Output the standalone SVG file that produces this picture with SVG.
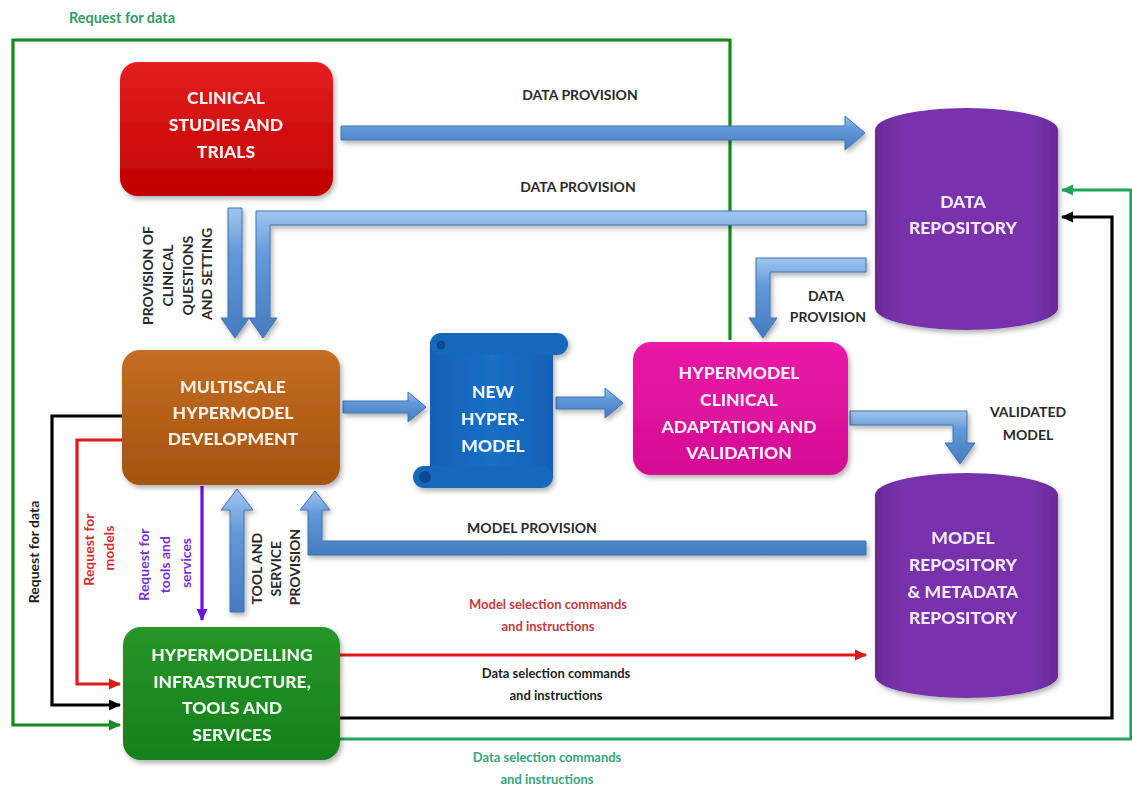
<svg xmlns="http://www.w3.org/2000/svg" width="1132" height="790" viewBox="0 0 1132 790">
  <style>
    .box { font-family: Lato, "Liberation Sans", sans-serif; font-weight: 900; font-size: 17.5px; text-anchor: middle; }
    .lbl { font-family: Lato, "Liberation Sans", sans-serif; font-weight: bold; font-size: 14px; text-anchor: middle; fill: #2a2a2a; }
    .small { font-family: Lato, "Liberation Sans", sans-serif; font-weight: bold; font-size: 13px; text-anchor: middle; }
    .blue { fill: url(#gArrow); stroke: #3e73b3; stroke-width: 1; filter: url(#shadow); }
    .wire { fill: none; stroke-width: 3.2; stroke-linejoin: miter; }
  </style>
  <defs>
    <filter id="shadow" x="-10%" y="-10%" width="130%" height="140%">
      <feDropShadow dx="2" dy="3" stdDeviation="2.5" flood-color="#000" flood-opacity="0.3"/>
    </filter>
    <linearGradient id="gArrow" x1="0" y1="0" x2="0" y2="1">
      <stop offset="0" stop-color="#a0c5ee"/>
      <stop offset="0.35" stop-color="#6299d8"/>
      <stop offset="1" stop-color="#457cbf"/>
    </linearGradient>
    <linearGradient id="gRed" x1="0" y1="0" x2="0" y2="1">
      <stop offset="0" stop-color="#e42020"/>
      <stop offset="1" stop-color="#c00000"/>
    </linearGradient>
    <linearGradient id="gBrown" x1="0" y1="0" x2="0" y2="1">
      <stop offset="0" stop-color="#c46d22"/>
      <stop offset="1" stop-color="#a5520e"/>
    </linearGradient>
    <linearGradient id="gScroll" x1="0" y1="0" x2="1" y2="0">
      <stop offset="0" stop-color="#1260b4"/>
      <stop offset="0.5" stop-color="#1a6fc6"/>
      <stop offset="1" stop-color="#1260b4"/>
    </linearGradient>
    <linearGradient id="gPink" x1="0" y1="0" x2="0" y2="1">
      <stop offset="0" stop-color="#ea1aa8"/>
      <stop offset="1" stop-color="#d40c92"/>
    </linearGradient>
    <linearGradient id="gGreen" x1="0" y1="0" x2="0" y2="1">
      <stop offset="0" stop-color="#27952a"/>
      <stop offset="1" stop-color="#15801a"/>
    </linearGradient>
    <linearGradient id="gPurple" x1="0" y1="0" x2="1" y2="0">
      <stop offset="0" stop-color="#6a2a9c"/>
      <stop offset="0.15" stop-color="#7833ac"/>
      <stop offset="0.85" stop-color="#7833ac"/>
      <stop offset="1" stop-color="#6a2a9c"/>
    </linearGradient>
    <marker id="mBlack" viewBox="0 0 12 12" refX="11" refY="6" markerWidth="12" markerHeight="12" markerUnits="userSpaceOnUse" orient="auto">
      <path d="M0,0.5 L12,6 L0,11.5 Z" fill="#000"/>
    </marker>
    <marker id="mRed" viewBox="0 0 12 12" refX="11" refY="6" markerWidth="12" markerHeight="12" markerUnits="userSpaceOnUse" orient="auto">
      <path d="M0,0.5 L12,6 L0,11.5 Z" fill="#e01818"/>
    </marker>
    <marker id="mGreen" viewBox="0 0 12 12" refX="11" refY="6" markerWidth="12" markerHeight="12" markerUnits="userSpaceOnUse" orient="auto">
      <path d="M0,0.5 L12,6 L0,11.5 Z" fill="#1a8a2a"/>
    </marker>
    <marker id="mGreen2" viewBox="0 0 12 12" refX="11" refY="6" markerWidth="12" markerHeight="12" markerUnits="userSpaceOnUse" orient="auto">
      <path d="M0,0.5 L12,6 L0,11.5 Z" fill="#22a35a"/>
    </marker>
    <marker id="mPurple" viewBox="0 0 12 12" refX="11" refY="6" markerWidth="12" markerHeight="12" markerUnits="userSpaceOnUse" orient="auto">
      <path d="M0,0.5 L12,6 L0,11.5 Z" fill="#6a12d8"/>
    </marker>
  </defs>

  <rect width="1132" height="790" fill="#ffffff"/>

  <!-- connectors -->
  <g id="connectors">
    <!-- thin request / command lines -->
    <path class="wire" stroke="#148a1c" d="M730,340 V40 H13 V725 H120" marker-end="url(#mGreen)"/>
    <path class="wire" stroke="#000" d="M122,416 H52 V705 H120" marker-end="url(#mBlack)"/>
    <path class="wire" stroke="#e01818" d="M122,440 H77 V684 H120" marker-end="url(#mRed)"/>
    <path class="wire" stroke="#6a12d8" d="M202,486 V620" marker-end="url(#mPurple)"/>
    <path class="wire" stroke="#e01818" d="M340,655 H866" marker-end="url(#mRed)"/>
    <path class="wire" stroke="#000" d="M340,718 H1112 V217 H1062" marker-end="url(#mBlack)"/>
    <path class="wire" stroke="#22a35a" d="M340,739 H1131 V190 H1062" marker-end="url(#mGreen2)"/>

    <!-- block arrows -->
    <!-- clinical studies to data repository -->
    <path class="blue" d="M341,126 H845 V116 L865,133 L845,150 V140 H341 Z"/>
    <!-- data repository to multiscale development -->
    <path class="blue" d="M866,211 H256 V318 H249 L263,338 L277,318 H270 V225 H866 Z"/>
    <!-- clinical studies to multiscale development -->
    <path class="blue" d="M228,208 H242 V318 H249 L235,338 L221,318 H228 Z"/>
    <!-- data repository to clinical adaptation -->
    <path class="blue" d="M866,258 H756 V318 H749 L763,338 L777,318 H770 V272 H866 Z"/>
    <!-- multiscale development to new hypermodel -->
    <path class="blue" d="M343,401 H408 V392 L426,407 L408,422 V413 H343 Z"/>
    <!-- new hypermodel to clinical adaptation -->
    <path class="blue" d="M556,397 H605 V388 L623,403 L605,418 V409 H556 Z"/>
    <!-- validated model to model repository -->
    <path class="blue" d="M850,411 H967 V443 H975 L960,464 L945,443 H953 V425 H850 Z"/>
    <!-- model repository to multiscale development -->
    <path class="blue" d="M866,541 H322 V510 H330 L315,491 L300,510 H308 V555 H866 Z"/>
    <!-- tools and services to multiscale development -->
    <path class="blue" d="M230,612 V510 H221 L237,489 L253,510 H244 V612 Z"/>
  </g>

  <!-- connector labels -->
  <g id="labels">
    <text class="small" fill="#2f9c6a" x="122" y="23" style="font-size:14.5px">Request for data</text>
    <text class="lbl" x="580" y="100">DATA PROVISION</text>
    <text class="lbl" x="578" y="192">DATA PROVISION</text>
    <text class="lbl" x="826" y="301">DATA</text>
    <text class="lbl" x="828" y="322">PROVISION</text>
    <text class="lbl" x="1028" y="417">VALIDATED</text>
    <text class="lbl" x="1028" y="440">MODEL</text>
    <text class="lbl" x="532" y="533">MODEL PROVISION</text>
    <text class="small" fill="#c23a3a" x="548" y="609">Model selection commands</text>
    <text class="small" fill="#c23a3a" x="548" y="631">and instructions</text>
    <text class="small" fill="#1e1e1e" x="556" y="678">Data selection commands</text>
    <text class="small" fill="#1e1e1e" x="556" y="700">and instructions</text>
    <text class="small" fill="#3aa37a" x="547" y="762">Data selection commands</text>
    <text class="small" fill="#3aa37a" x="547" y="784">and instructions</text>
    <text class="lbl" transform="translate(152.5,274) rotate(-90)">
      <tspan x="0" dy="0">PROVISION OF</tspan>
      <tspan x="0" dy="20">CLINICAL</tspan>
      <tspan x="0" dy="20">QUESTIONS</tspan>
      <tspan x="0" dy="19">AND SETTING</tspan>
    </text>
    <text class="small" fill="#1e1e1e" transform="translate(39,552) rotate(-90)" style="font-size:14px">Request for data</text>
    <text class="small" fill="#d03030" transform="translate(94,548) rotate(-90)" style="font-size:14px">
      <tspan x="0" dy="0">Request for</tspan>
      <tspan x="0" dy="20">models</tspan>
    </text>
    <text class="small" fill="#7a2fd6" transform="translate(149,563) rotate(-90)" style="font-size:14px">
      <tspan x="0" dy="0">Request for</tspan>
      <tspan x="0" dy="21">tools and</tspan>
      <tspan x="0" dy="21">services</tspan>
    </text>
    <text class="lbl" transform="translate(261.5,567) rotate(-90)">
      <tspan x="0" dy="0">TOOL AND</tspan>
      <tspan x="0" dy="19">SERVICE</tspan>
      <tspan x="0" dy="19">PROVISION</tspan>
    </text>
  </g>

  <!-- nodes -->
  <g id="clinical-studies" filter="url(#shadow)">
    <rect x="120" y="62" width="213" height="134" rx="18" fill="url(#gRed)"/>
    <text class="box" fill="#f6f0f0" x="226" y="104">CLINICAL</text>
    <text class="box" fill="#f6f0f0" x="226" y="131">STUDIES AND</text>
    <text class="box" fill="#f6f0f0" x="226" y="158">TRIALS</text>
  </g>

  <g id="multiscale-development" filter="url(#shadow)">
    <rect x="122" y="350" width="218" height="135" rx="18" fill="url(#gBrown)"/>
    <text class="box" fill="#f8f0e6" x="233" y="393">MULTISCALE</text>
    <text class="box" fill="#f8f0e6" x="233" y="419">HYPERMODEL</text>
    <text class="box" fill="#f8f0e6" x="233" y="445">DEVELOPMENT</text>
  </g>

  <g id="new-hypermodel" filter="url(#shadow)">
    <rect x="430" y="342" width="123" height="136" fill="url(#gScroll)"/>
    <rect x="430" y="333" width="138" height="22" rx="11" fill="#1667bd"/>
    <rect x="413" y="466" width="140" height="22" rx="11" fill="#1667bd"/>
    <circle cx="441" cy="345" r="4.5" fill="#0b4a91"/>
    <circle cx="425" cy="477" r="6" fill="#0b4a91"/>
    <text class="box" fill="#eef4fb" x="493" y="398">NEW</text>
    <text class="box" fill="#eef4fb" x="493" y="425">HYPER-</text>
    <text class="box" fill="#eef4fb" x="493" y="452">MODEL</text>
  </g>

  <g id="clinical-adaptation" filter="url(#shadow)">
    <rect x="633" y="342" width="215" height="133" rx="18" fill="url(#gPink)"/>
    <text class="box" fill="#fbeef6" x="739" y="379">HYPERMODEL</text>
    <text class="box" fill="#fbeef6" x="739" y="406">CLINICAL</text>
    <text class="box" fill="#fbeef6" x="739" y="433">ADAPTATION AND</text>
    <text class="box" fill="#fbeef6" x="739" y="459">VALIDATION</text>
  </g>

  <g id="hypermodelling-infrastructure" filter="url(#shadow)">
    <rect x="123" y="627" width="217" height="133" rx="18" fill="url(#gGreen)"/>
    <text class="box" fill="#eef8ee" x="232" y="661">HYPERMODELLING</text>
    <text class="box" fill="#eef8ee" x="232" y="688">INFRASTRUCTURE,</text>
    <text class="box" fill="#eef8ee" x="232" y="714">TOOLS AND</text>
    <text class="box" fill="#eef8ee" x="232" y="741">SERVICES</text>
  </g>

  <g id="data-repository" filter="url(#shadow)">
    <path d="M875,130 A91.5,22 0 0 1 1058,130 V308 A91.5,22 0 0 1 875,308 Z" fill="url(#gPurple)"/>
    <text class="box" fill="#f3e8f8" x="963" y="208">DATA</text>
    <text class="box" fill="#f3e8f8" x="963" y="234">REPOSITORY</text>
  </g>

  <g id="model-repository" filter="url(#shadow)">
    <path d="M875,495 A91.5,22 0 0 1 1058,495 V676 A91.5,22 0 0 1 875,676 Z" fill="url(#gPurple)"/>
    <text class="box" fill="#f3e8f8" x="963" y="544">MODEL</text>
    <text class="box" fill="#f3e8f8" x="963" y="571">REPOSITORY</text>
    <text class="box" fill="#f3e8f8" x="963" y="598">&amp; METADATA</text>
    <text class="box" fill="#f3e8f8" x="963" y="624">REPOSITORY</text>
  </g>
</svg>
